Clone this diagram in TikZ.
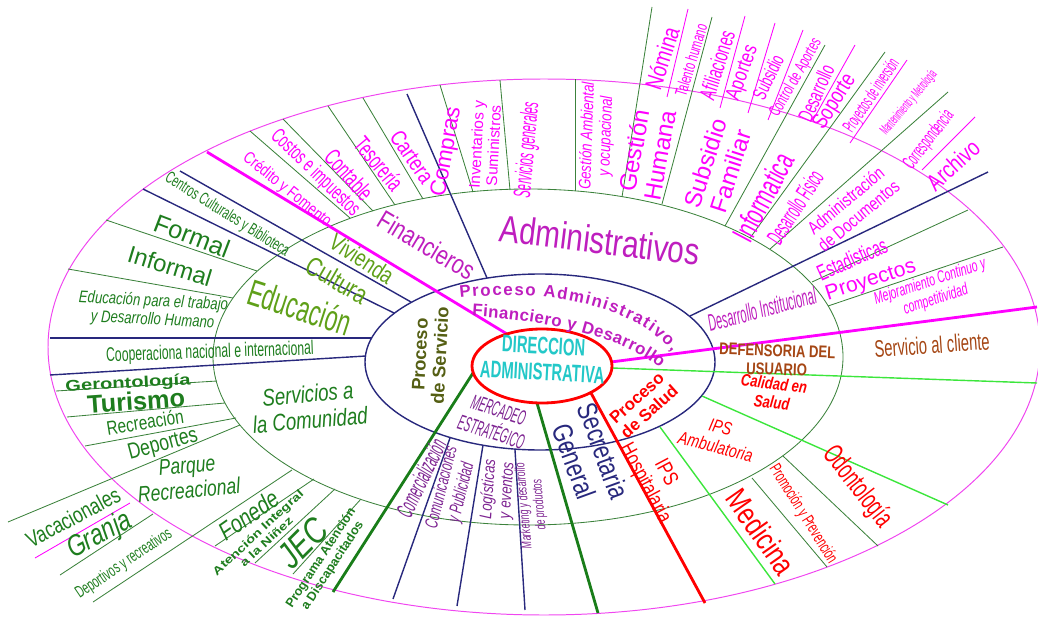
\documentclass[tikz,border=0pt]{standalone}
\usepackage{fontspec}
\setmainfont{Liberation Sans}
\newfontfamily\nrwa[FakeStretch=0.78]{Liberation Sans}
\newfontfamily\nrwb[FakeStretch=0.62]{Liberation Sans}
\newfontfamily\nrwc[FakeStretch=0.46]{Liberation Sans}
\newfontfamily\wdf[FakeStretch=1.3]{Liberation Sans}
\usetikzlibrary{decorations.text}
\newcommand{\fsz}[1]{\fontsize{#1}{\the\dimexpr #1pt*11/10\relax}\selectfont}
\definecolor{nav}{RGB}{40,40,125}
\definecolor{gln}{RGB}{60,130,60}
\definecolor{mag}{RGB}{255,0,255}
\definecolor{orl}{RGB}{240,70,240}
\definecolor{pur}{RGB}{190,30,190}
\definecolor{mpu}{RGB}{125,35,145}
\definecolor{dgr}{RGB}{30,125,30}
\definecolor{lgr}{RGB}{95,160,25}
\definecolor{lim}{RGB}{60,230,60}
\definecolor{thg}{RGB}{25,125,25}
\definecolor{brn}{RGB}{165,70,20}
\definecolor{olv}{RGB}{85,95,20}
\definecolor{cyn}{RGB}{35,200,200}

\begin{document}
\begin{tikzpicture}[x=0.025cm, y=-0.025cm,
  lbl/.style={inner sep=0pt, align=center},
  nv/.style={draw=nav, line width=1pt},
  gl/.style={draw=gln, line width=0.6pt},
  ml/.style={draw=mag, line width=0.6pt},
  lm/.style={draw=lim, line width=1pt},
  thk/.style={line width=2pt}]
\useasboundingbox (0,0) rectangle (1038,617);
% rings
\draw[orl, line width=0.7pt] (544,347) ellipse (496 and 268);
\draw[gln, line width=0.6pt] (528,357) ellipse (315 and 168);
\draw[nav, line width=1pt] (540,362) ellipse (175 and 88);
% dividers
\foreach \a/\b/\c/\d in {50/338/372/338, 50/375/366/356, 180/171/411/302, 143/189/394/313, 407/94/487/278,
  988/172/690/316, 450/438/393/599, 483/445/457/606, 515/450/525/610}
  \draw[nv] (\a,\b) -- (\c,\d);
\foreach \a/\b/\c/\d in {250/131/350/218, 283/119/373/211, 328/106/395/205, 363/98/423/199, 440/85/473/192,
  500/80/510/190, 575/79/575/191, 652/7/622/197, 712/17/662/204, 825/45/725/226, 885/52/750/238,
  948/92/770/249, 968/210/812/282, 1003/247/828/306, 106/220/257/271, 68/269/233/298, 56/391/217/381,
  67/417/225/403, 85/446/236/418, 8/522/240/425, 60/575/153/514, 93/602/292/470, 215/546/314/479,
  255/563/335/489, 293/574/361/499, 783/456/878/546, 752/478/827/567}
  \draw[gl] (\a,\b) -- (\c,\d);
\foreach \a/\b/\c/\d in {35/558/130/503, 688/9/667/97, 745/16/720/108, 775/23/748/113, 803/30/768/120,
  855/45/813/120, 975/117/922/170, 907/60/850/143}
  \draw[ml] (\a,\b) -- (\c,\d);
\foreach \a/\b/\c/\d in {612/368/1037/383, 702/396/948/505, 660/427/775/584}
  \draw[lm] (\a,\b) -- (\c,\d);
\draw[mag, thk] (207,152) -- (507,334);
\draw[mag, thk] (1037,307) -- (611,362);
\draw[red, thk] (591,393) -- (705,603);
\draw[thg, thk] (473,373) -- (333,592);
\draw[thg, thk] (537,403) -- (598,613);
\draw[red, thk, fill=white] (542,366) ellipse (70 and 37);
% centre
\node[lbl, cyn, rotate=-3, font=\nrwb\bfseries\fsz{17}] (direc) at (543,359) {DIRECCION\\ADMINISTRATIVA};
\path[decorate, decoration={text along path, text align={fit to path}, text color=pur,
  text={|\bfseries\fsz{12}|Proceso Administrativo,}}] (460,298) .. controls (545,288) and (635,305) .. (672,352);
\path[decorate, decoration={text along path, text align={fit to path}, text color=pur,
  text={|\bfseries\fsz{12}|Financiero y Desarrollo}}] (472,316) .. controls (540,320) and (620,335) .. (660,368);
\node[lbl, olv, rotate=87, font=\bfseries\fsz{13}] (procserv) at (430,355) {Proceso\\de Servicio};
\node[lbl, red, rotate=42, font=\bfseries\fsz{12}] (procsal) at (643,405) {Proceso\\de Salud};
\node[lbl, mpu, rotate=-18, font=\nrwc\itshape\fsz{15}] (mercad) at (495,421) {MERCADEO\\ESTRATÉGICO};
% administrativo
\node[lbl, pur, rotate=-7, font=\nrwa\fsz{27}] (admin) at (600,240) {Administrativos};
\node[lbl, pur, rotate=-31, font=\nrwa\fsz{19}] (financ) at (427,245) {Financieros};
\node[lbl, pur, rotate=15, font=\nrwc\itshape\fsz{17}] (desinst) at (762,309) {Desarrollo Institucional};
\node[lbl, mag, rotate=-39, font=\nrwa\fsz{12}] (credito) at (287,190) {Crédito y Fomento};
\node[lbl, mag, rotate=-44, font=\nrwb\fsz{15}] (costos) at (315,173) {Costos e impuestos};
\node[lbl, mag, rotate=-48, font=\nrwb\fsz{17}] (contable) at (349,175) {Contable};
\node[lbl, mag, rotate=-50, font=\nrwb\fsz{17}] (tesoreria) at (379,164) {Tesorería};
\node[lbl, mag, rotate=-55, font=\nrwa\fsz{16}] (cartera) at (412,157) {Cartera};
\node[lbl, mag, rotate=80, font=\fsz{16}] (compras) at (447,152) {Compras};
\node[lbl, mag, rotate=87, font=\fsz{11}] (invent) at (485,145) {Inventarios y\\Suministros};
\node[lbl, mag, rotate=85, font=\nrwc\itshape\fsz{17}] (servgen) at (528,150) {Servicios generales};
\node[lbl, mag, rotate=88, font=\nrwa\itshape\fsz{12}] (gamb) at (597,136) {Gestión Ambiental\\y ocupacional};
\node[lbl, mag, rotate=80, font=\fsz{17}] (ghum) at (647,153) {Gestión\\Humana};
\node[lbl, mag, rotate=72, font=\fsz{17}] (subfam) at (718,167) {Subsidio\\Familiar};
\node[lbl, mag, rotate=62, font=\nrwb\fsz{22}] (inform) at (763,197) {Informatica};
\node[lbl, mag, rotate=57, font=\nrwc\fsz{17}] (desfis) at (795,207) {Desarrollo Físico};
\node[lbl, mag, rotate=40, font=\nrwa\fsz{13}] (admdoc) at (852,208) {Administración\\de Documentos};
\node[lbl, mag, rotate=24, font=\nrwb\fsz{16}] (estad) at (852,259) {Estadisticas};
\node[lbl, mag, rotate=18, font=\fsz{15}] (proy) at (871,281) {Proyectos};
\node[lbl, mag, rotate=18, font=\nrwb\itshape\fsz{12}] (mejora) at (933,291) {Mejoramiento Continuo y\\competitividad};
\node[lbl, mag, rotate=42, font=\nrwa\fsz{17}] (archivo) at (953,165) {Archivo};
\node[lbl, mag, rotate=52, font=\nrwc\fsz{14}] (corresp) at (929,140) {Correspondencia};
\node[lbl, mag, rotate=50, font=\nrwc\fsz{10}] (mant) at (909,103) {Mantenimiento y Metrología};
\node[lbl, mag, rotate=56, font=\nrwc\fsz{13}] (proyinv) at (872,96) {Proyectos de inversión};
\node[lbl, mag, rotate=58, font=\nrwa\fsz{16}] (soporte) at (835,102) {Soporte};
\node[lbl, mag, rotate=66, font=\nrwb\fsz{15}] (desarr) at (816,93) {Desarrollo};
\node[lbl, mag, rotate=60, font=\nrwb\fsz{12}] (ctrlap) at (796,78) {Control de Aportes};
\node[lbl, mag, rotate=64, font=\nrwb\fsz{14}] (subs) at (768,77) {Subsidio};
\node[lbl, mag, rotate=70, font=\nrwa\fsz{15}] (aportes) at (743,73) {Aportes};
\node[lbl, mag, rotate=72, font=\nrwb\fsz{16}] (afil) at (717,65) {Afiliaciones};
\node[lbl, mag, rotate=73, font=\nrwb\fsz{12}] (talento) at (691,60) {Talento humano};
\node[lbl, mag, rotate=72, font=\nrwa\fsz{17}] (nomina) at (662,58) {Nómina};
% salud
\node[lbl, brn, rotate=4, font=\nrwb\fsz{17}] (servcli) at (932,345) {Servicio al cliente};
\node[lbl, brn, rotate=-2, font=\nrwa\bfseries\fsz{12}] (defens) at (777,360) {DEFENSORIA DEL\\USUARIO};
\node[lbl, red, rotate=-7, font=\nrwa\bfseries\itshape\fsz{12}] (calidad) at (773,393) {Calidad en\\Salud};
\node[lbl, red, rotate=-14, font=\nrwa\itshape\fsz{13}] (ipsamb) at (718,437) {IPS\\Ambulatoria};
\node[lbl, red, rotate=-52, font=\nrwb\fsz{20}] (odonto) at (857,487) {Odontología};
\node[lbl, red, rotate=-58, font=\nrwb\fsz{12}] (promo) at (803,514) {Promoción y Prevención};
\node[lbl, red, rotate=-55, font=\nrwa\fsz{22}] (medic) at (761,532) {Medicina};
\node[lbl, red, rotate=-62, font=\nrwa\fsz{15}] (ipshosp) at (655,478) {IPS\\Hospitalaria};
\node[lbl, nav, rotate=-70, font=\nrwa\fsz{20}] (secret) at (589,456) {Secretaria\\General};
% mercadeo
\node[lbl, mpu, rotate=95, font=\nrwb\itshape\fsz{10}] (market) at (532,505) {Marketing y desarrollo\\de productos};
\node[lbl, mpu, rotate=86, font=\nrwa\itshape\fsz{12}] (logist) at (498,490) {Logísticas\\y eventos};
\node[lbl, mpu, rotate=76, font=\nrwb\itshape\fsz{13}] (comunic) at (452,490) {Comunicaciones\\y Publicidad};
\node[lbl, mpu, rotate=64, font=\nrwc\itshape\fsz{17}] (comerc) at (421,478) {Comercialización};
% servicios
\node[lbl, dgr, rotate=-32, font=\nrwb\fsz{12}] (centros) at (227,215) {Centros Culturales y Biblioteca};
\node[lbl, lgr, rotate=-33, font=\nrwa\fsz{17}] (vivienda) at (362,259) {Vivienda};
\node[lbl, lgr, rotate=-30, font=\nrwa\fsz{19}] (cultura) at (337,280) {Cultura};
\node[lbl, lgr, rotate=-18, font=\nrwb\fsz{26}] (educ) at (300,307) {Educación};
\node[lbl, dgr, rotate=-21, font=\fsz{18}] (formal) at (192,236) {Formal};
\node[lbl, dgr, rotate=-17, font=\fsz{17}] (informal) at (170,266) {Informal};
\node[lbl, dgr, rotate=-3, font=\nrwa\itshape\fsz{12}] (edtrab) at (153,311) {Educación para el trabajo\\y Desarrollo Humano};
\node[lbl, dgr, rotate=2, font=\nrwb\fsz{14}] (cooper) at (210,353) {Cooperaciona nacional e internacional};
\node[lbl, dgr, rotate=3, font=\wdf\bfseries\fsz{11}] (geront) at (128,384) {Gerontología};
\node[lbl, dgr, rotate=4, font=\bfseries\fsz{18}] (turismo) at (136,401) {Turismo};
\node[lbl, dgr, rotate=9, font=\nrwa\fsz{14}] (recrea) at (145,422) {Recreación};
\node[lbl, dgr, rotate=15, font=\nrwa\fsz{16}] (deport) at (163,445) {Deportes};
\node[lbl, dgr, rotate=5, font=\nrwa\itshape\fsz{17}] (servcom) at (309,407) {Servicios a\\la Comunidad};
\node[lbl, dgr, rotate=5, font=\nrwa\itshape\fsz{16}] (parque) at (188,478) {Parque\\Recreacional};
\node[lbl, dgr, rotate=28, font=\nrwa\fsz{16}] (vacac) at (73,517) {Vacacionales};
\node[lbl, dgr, rotate=28, font=\nrwa\itshape\fsz{21}] (granja) at (100,536) {Granja};
\node[lbl, dgr, rotate=34, font=\nrwb\fsz{12}] (deprec) at (124,564) {Deportivos y recreativos};
\node[lbl, dgr, rotate=35, font=\nrwa\itshape\fsz{18}] (fonede) at (249,515) {Fonede};
\node[lbl, dgr, rotate=43, font=\wdf\bfseries\fsz{8}] (atenc) at (262,537) {Atención Integral\\a la Niñez};
\node[lbl, dgr, rotate=45, font=\nrwa\itshape\fsz{26}] (jec) at (303,543) {JEC};
\node[lbl, dgr, rotate=57, font=\bfseries\fsz{9}] (progr) at (327,562) {Programa Atención\\a Discapacitados};
\end{tikzpicture}
\end{document}
